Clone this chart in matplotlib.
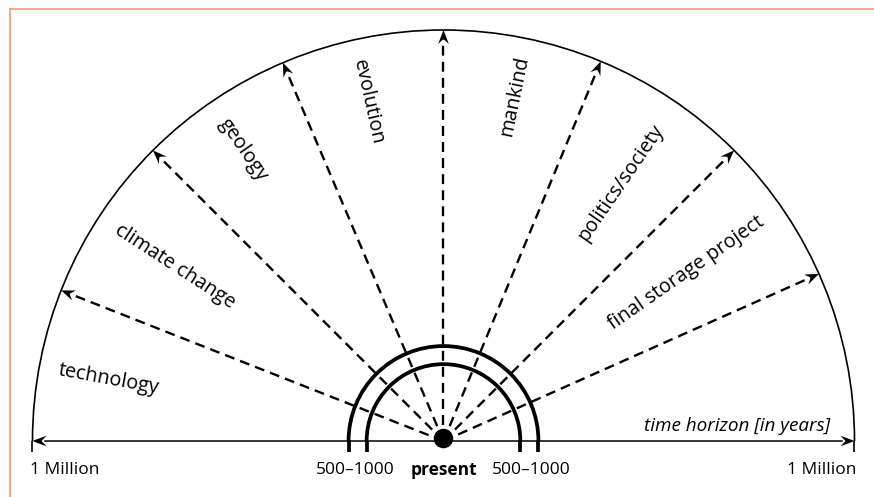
import numpy as np
import matplotlib.pyplot as plt
from matplotlib.patches import Arc, Circle, Polygon
from matplotlib.lines import Line2D

# arrow directions (degrees) and the topic labels between them
arrow_angles = [158.5, 135, 113, 90, 67.5, 45, 24]
labels = ["technology", "climate change", "geology", "evolution",
          "mankind", "politics/society", "final storage project"]
label_angles = [169.6, 147, 124.5, 102.5, 78.4, 55.5, 34.8]
label_radii = [0.827, 0.779, 0.859, 0.844, 0.856, 0.762, 0.718]

# rings near the present (500-1000 years), relative to the 1 million radius
ring_radii = [0.187, 0.231]

bottom_labels = ["1 Million", "500\u20131000", "present", "500\u20131000", "1 Million"]

FONT = ["Open Sans", "DejaVu Sans"]
W, H = 874, 497
CX, CY, RPX = 443.5, 441, 411


def arrow_head(ax, tip, ang, length=0.034, half=0.013, indent=0.012, **kw):
    d = np.array([np.cos(ang), np.sin(ang)])
    n = np.array([-d[1], d[0]])
    tip = np.asarray(tip)
    back = tip - d * length
    pts = [tip, back + n * half, tip - d * (length - indent), back - n * half]
    ax.add_patch(Polygon(pts, closed=True, color="black", lw=0, **kw))
    return tip - d * (length - indent)


def main():
    fig = plt.figure(figsize=(W / 100, H / 100), dpi=100)
    ax = fig.add_axes([0, 0, 1, 1])
    ax.set_xlim(-CX / RPX, (W - CX) / RPX)
    ax.set_ylim(-(H - CY) / RPX, CY / RPX)
    ax.set_aspect("equal")
    ax.axis("off")

    stub = 11 / RPX

    # outer semicircle (1 million years)
    ax.add_patch(Arc((0, 0), 2, 2, theta1=0, theta2=180, lw=1.2, color="black"))
    for s in (-1, 1):
        ax.plot([s, s], [0, -stub], color="black", lw=1.2, solid_capstyle="butt")

    # thick rings
    for r in ring_radii:
        ax.add_patch(Arc((0, 0), 2 * r, 2 * r, theta1=0, theta2=180, lw=2.7, color="black"))
        for s in (-1, 1):
            ax.plot([s * r, s * r], [0, -stub], color="black", lw=2.7, solid_capstyle="butt")

    # time axis with arrows on both ends
    ax.plot([-0.97, 0.97], [0, 0], color="black", lw=1.1)
    arrow_head(ax, (-1, 0), np.pi, zorder=3)
    arrow_head(ax, (1, 0), 0.0, zorder=3)

    # dashed arrows
    for a in arrow_angles:
        t = np.radians(a)
        tip = (np.cos(t), np.sin(t))
        base = arrow_head(ax, tip, t, zorder=3)
        ax.plot([0, base[0]], [0, base[1]], color="black", lw=1.7,
                dashes=(4.2, 2.6), dash_capstyle="butt")

    # present dot
    ax.add_patch(Circle((0, 0.006), 0.022, color="black", zorder=5))

    # sector labels, radial
    for lab, a, r in zip(labels, label_angles, label_radii):
        t = np.radians(a)
        rot = a - 180 if a > 90 else a
        ax.text(r * np.cos(t), r * np.sin(t), lab, rotation=rot,
                rotation_mode="anchor", ha="center", va="center",
                fontsize=14.3, family=FONT, color="black")

    # labels under the axis
    yb = -29 / RPX
    xs = [-1.005, -(ring_radii[0] + ring_radii[1]) / 2 - 0.005, 0.0,
          (ring_radii[0] + ring_radii[1]) / 2 + 0.005, 1.005]
    has = ["left", "center", "center", "center", "right"]
    for lab, x, ha in zip(bottom_labels, xs, has):
        ax.text(x, yb, lab, ha=ha, va="center", fontsize=12.5, family=FONT,
                fontweight="bold" if lab == "present" else "normal", color="black")

    ax.text(0.94, 15 / RPX, "time horizon [in years]", ha="right", va="center",
            fontsize=13.6, style="italic", family=FONT, color="black")

    # orange frame (top and left edges)
    border = "#F2A178"
    fx, fy = 10 / W, 1 - 8.5 / H
    fig.add_artist(Line2D([fx, 1], [fy, fy], color=border, lw=1.3))
    fig.add_artist(Line2D([fx, fx], [0, fy], color=border, lw=1.3))

    fig.savefig("out.png", dpi=100)
    plt.close(fig)


if __name__ == "__main__":
    main()
